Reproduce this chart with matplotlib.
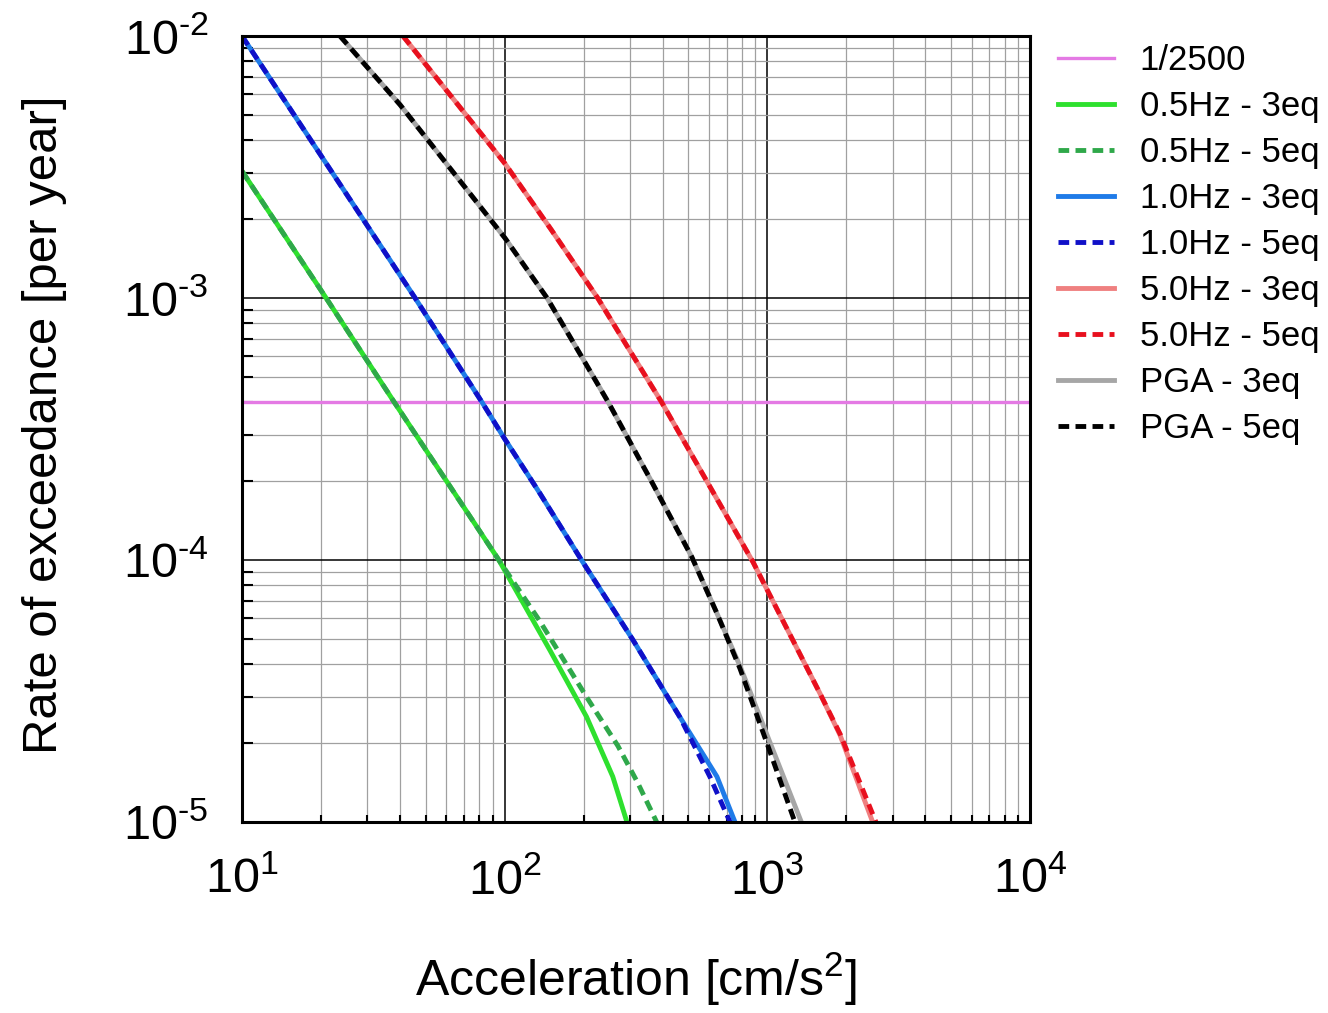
import matplotlib
matplotlib.use("Agg")
import matplotlib.pyplot as plt
from matplotlib.ticker import LogLocator, FuncFormatter, NullFormatter
import numpy as np

plt.rcParams['font.family'] = ['Liberation Sans', 'DejaVu Sans']
plt.rcParams['mathtext.fontset'] = 'custom'
plt.rcParams['mathtext.rm'] = 'Liberation Sans'
plt.rcParams['mathtext.it'] = 'Liberation Sans:italic'
plt.rcParams['mathtext.bf'] = 'Liberation Sans:bold'

# Hazard curves: acceleration [cm/s^2] vs annual rate of exceedance
hz05_3eq_x = [10, 20.9, 38, 95, 148.6, 205, 258, 292]
hz05_3eq_y = [3.05e-3, 1.0e-3, 4.0e-4, 1.0e-4, 4.53e-5, 2.52e-5, 1.49e-5, 1.0e-5]
hz05_5eq_x = [10, 20.9, 38, 95, 136, 205, 270, 320, 379]
hz05_5eq_y = [3.05e-3, 1.0e-3, 4.0e-4, 1.0e-4, 5.85e-5, 3.0e-5, 1.95e-5, 1.42e-5, 1.0e-5]

hz10_3eq_x = [10, 45.6, 82, 100, 136, 196, 308, 464, 643, 753]
hz10_3eq_y = [1.0e-2, 1.0e-3, 4.0e-4, 2.9e-4, 1.8e-4, 1.0e-4, 4.95e-5, 2.52e-5, 1.49e-5, 1.0e-5]
hz10_5eq_x = [10, 45.6, 82, 100, 136, 196, 308, 464, 604, 721]
hz10_5eq_y = [1.0e-2, 1.0e-3, 4.0e-4, 2.9e-4, 1.8e-4, 1.0e-4, 4.95e-5, 2.52e-5, 1.49e-5, 1.0e-5]

hz50_3eq_x = [41, 100, 150, 226, 291, 396, 588, 883, 1585, 1890, 2518]
hz50_3eq_y = [1.0e-2, 3.27e-3, 1.83e-3, 1.0e-3, 6.6e-4, 4.0e-4, 2.0e-4, 9.8e-5, 3.1e-5, 2.15e-5, 1.0e-5]
hz50_5eq_x = [41, 100, 150, 226, 291, 396, 588, 883, 1585, 1900, 2590]
hz50_5eq_y = [1.0e-2, 3.27e-3, 1.83e-3, 1.0e-3, 6.6e-4, 4.0e-4, 2.0e-4, 9.8e-5, 3.1e-5, 2.15e-5, 1.0e-5]

pga_3eq_x = [23.6, 40, 100, 145, 182, 248, 357, 515, 641, 790, 1030, 1347]
pga_3eq_y = [1.0e-2, 5.46e-3, 1.70e-3, 1.0e-3, 6.8e-4, 4.0e-4, 2.05e-4, 1.03e-4, 6.3e-5, 3.9e-5, 1.98e-5, 1.0e-5]
pga_5eq_x = [23.6, 40, 100, 145, 182, 248, 357, 515, 641, 787, 1000, 1273]
pga_5eq_y = [1.0e-2, 5.46e-3, 1.70e-3, 1.0e-3, 6.8e-4, 4.0e-4, 2.05e-4, 1.03e-4, 6.3e-5, 3.85e-5, 1.98e-5, 1.0e-5]

target_rate = 1 / 2500

xlim = (10, 1e4)
ylim = (1e-5, 1e-2)

fig = plt.figure(figsize=(13.28, 10.13), dpi=100)
ax = fig.add_axes([242 / 1328, 1 - 822 / 1013, 788 / 1328, 786 / 1013])
ax.set_xscale('log')
ax.set_yscale('log')
ax.set_xlim(*xlim)
ax.set_ylim(*ylim)

lw = 3.5
dash = (0, (2.2, 1.3))
ax.axhline(target_rate, color='#e47ae4', lw=2.4, label='1/2500', zorder=3)
ax.plot(hz05_3eq_x, hz05_3eq_y, color='#2ee02e', lw=lw, label='0.5Hz - 3eq', zorder=3)
ax.plot(hz05_5eq_x, hz05_5eq_y, color='#2fa84a', lw=lw, ls=dash, label='0.5Hz - 5eq', zorder=4)
ax.plot(hz10_3eq_x, hz10_3eq_y, color='#1f7be8', lw=lw, label='1.0Hz - 3eq', zorder=3)
ax.plot(hz10_5eq_x, hz10_5eq_y, color='#1010c8', lw=lw, ls=dash, label='1.0Hz - 5eq', zorder=4)
ax.plot(hz50_3eq_x, hz50_3eq_y, color='#ef8080', lw=lw, label='5.0Hz - 3eq', zorder=3)
ax.plot(hz50_5eq_x, hz50_5eq_y, color='#e8101e', lw=lw, ls=dash, label='5.0Hz - 5eq', zorder=4)
ax.plot(pga_3eq_x, pga_3eq_y, color='#a6a6a6', lw=lw, label='PGA - 3eq', zorder=3)
ax.plot(pga_5eq_x, pga_5eq_y, color='black', lw=lw, ls=dash, label='PGA - 5eq', zorder=4)

# Grid: black decades, grey sub-divisions
ax.xaxis.set_major_locator(LogLocator(base=10, numticks=10))
ax.yaxis.set_major_locator(LogLocator(base=10, numticks=10))
ax.xaxis.set_minor_locator(LogLocator(base=10, subs=np.arange(2, 10), numticks=20))
ax.yaxis.set_minor_locator(LogLocator(base=10, subs=np.arange(2, 10), numticks=20))
ax.xaxis.set_minor_formatter(NullFormatter())
ax.yaxis.set_minor_formatter(NullFormatter())
ax.grid(which='major', color='black', lw=1.1, zorder=1)
ax.grid(which='minor', color='#a0a0a0', lw=0.9, zorder=1)
ax.set_axisbelow(True)

def decade_label(v, pos):
    e = int(round(np.log10(v)))
    exp = ('\u2010%d' % -e) if e < 0 else '%d' % e
    return r'$\mathregular{10^{%s}}$' % exp

ax.xaxis.set_major_formatter(FuncFormatter(decade_label))
ax.yaxis.set_major_formatter(FuncFormatter(decade_label))
ax.tick_params(which='both', direction='in', top=False, right=False, labelsize=35, width=1.5)
ax.tick_params(which='major', length=0)
ax.tick_params(axis='x', which='major', pad=26)
ax.tick_params(axis='y', which='major', pad=24)
ax.tick_params(axis='y', which='minor', length=8)
ax.tick_params(axis='x', which='minor', length=5)
for s in ax.spines.values():
    s.set_linewidth(2.2)
    s.set_zorder(5)

ax.set_xlabel(r'Acceleration [cm/s$\mathregular{^2}$]', fontsize=36)
ax.set_ylabel('Rate of exceedance [per year]', fontsize=35.4)
ax.xaxis.set_label_coords(0.5, -0.163)
ax.yaxis.set_label_coords(-0.222, 0.505)

leg = ax.legend(loc='upper left', bbox_to_anchor=(1058 / 1328, 1 - 44 / 1013),
                bbox_transform=fig.transFigure, frameon=False, fontsize=25,
                handlelength=1.6, handletextpad=0.75, labelspacing=0.375,
                borderpad=0, borderaxespad=0)

fig.savefig('out.png', dpi=100, facecolor='white')
